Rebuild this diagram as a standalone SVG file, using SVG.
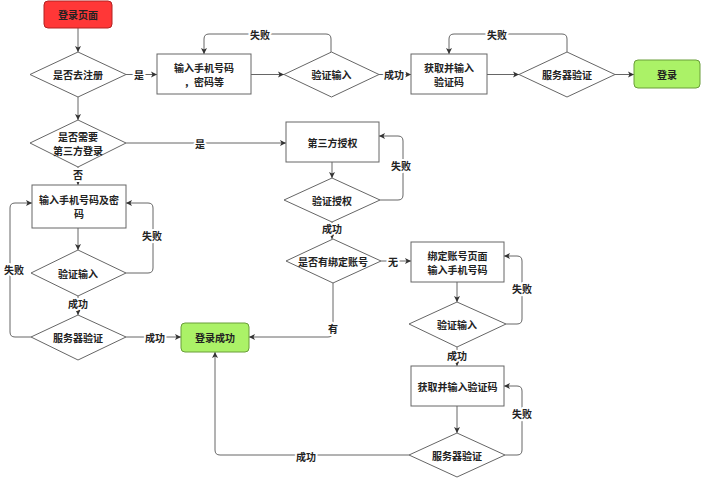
<svg xmlns="http://www.w3.org/2000/svg" width="703" height="478" viewBox="0 0 703 478">
<defs>
<marker id="arr" markerUnits="userSpaceOnUse" markerWidth="7" markerHeight="7" refX="6" refY="3.5" orient="auto">
<path d="M0,0.5 L6,3.5 L0,6.5 L1.5,3.5 z" fill="#333"/>
</marker>
<style>
.n{fill:#fff;stroke:#666;stroke-width:1}
.red{fill:#FF3737;stroke:#B22222;stroke-width:1}
.grn{fill:#ABF267;stroke:#6A9E3A;stroke-width:1}
text{font-family:"Noto Sans CJK SC","Noto Sans",sans-serif;font-size:10px;font-weight:bold;fill:#222;text-anchor:middle;dominant-baseline:central}
.c path{fill:none;stroke:#666;stroke-width:1;marker-end:url(#arr)}
.lb{paint-order:stroke;stroke:#fff;stroke-width:4px;stroke-linejoin:round}
</style>
</defs>
<rect width="703" height="478" fill="#fff"/>
<g class="c" id="connectors">
<path d="M78,28 V52"/>
<path d="M126,74.5 H157"/>
<path d="M251,74.5 H284"/>
<path d="M331,52 V39 Q331,34 326,34 H209 Q204,34 204,39 V54"/>
<path d="M379,74.5 H411"/>
<path d="M487,74.5 H519"/>
<path d="M567,52 V39 Q567,34 562,34 H454 Q449,34 449,39 V54"/>
<path d="M615,74.5 H634"/>
<path d="M78,97 V120"/>
<path d="M126,143 H286"/>
<path d="M78,167 V185"/>
<path d="M78,228 V250"/>
<path d="M126,273 H148 Q153,273 153,268 V208 Q153,203 148,203 H126"/>
<path d="M78,296 V315"/>
<path d="M31,337 H15 Q10,337 10,332 V208 Q10,203 15,203 H32"/>
<path d="M126,337 H181"/>
<path d="M332,162 V178"/>
<path d="M380,200 H398 Q403,200 403,195 V141 Q403,136 398,136 H379"/>
<path d="M332,222 V239"/>
<path d="M381,261 H411"/>
<path d="M333,283 V332 Q333,337 328,337 H249"/>
<path d="M457,282 V302"/>
<path d="M506,324 H517 Q522,324 522,319 V261 Q522,256 517,256 H504"/>
<path d="M457,347 V366"/>
<path d="M457,406 V433"/>
<path d="M505,455 H517 Q522,455 522,450 V391 Q522,386 517,386 H504"/>
<path d="M409,455 H220 Q215,455 215,450 V352"/>
<text class="lb" x="139" y="74.5">是</text>
<text class="lb" x="260" y="34">失败</text>
<text class="lb" x="394" y="74.5">成功</text>
<text class="lb" x="497" y="34">失败</text>
<text class="lb" x="200" y="143">是</text>
<text class="lb" x="78" y="174">否</text>
<text class="lb" x="152" y="235">失败</text>
<text class="lb" x="78" y="303">成功</text>
<text class="lb" x="14" y="269">失败</text>
<text class="lb" x="155" y="337">成功</text>
<text class="lb" x="401" y="165">失败</text>
<text class="lb" x="332" y="228">成功</text>
<text class="lb" x="393" y="261">无</text>
<text class="lb" x="333" y="328">有</text>
<text class="lb" x="522" y="288">失败</text>
<text class="lb" x="457" y="355">成功</text>
<text class="lb" x="522" y="413">失败</text>
<text class="lb" x="306" y="456">成功</text>
</g>
<g id="start"><rect class="red" x="44" y="1" width="68" height="27" rx="4"/><text x="78" y="14.5">登录页面</text></g>
<g id="d_register"><path class="n" d="M30,74.5 L78,52 L126,74.5 L78,97 z"/><text x="78" y="74.5">是否去注册</text></g>
<g id="reg_input"><rect class="n" x="157" y="54" width="94" height="40"/><text x="204" y="67">输入手机号码</text><text x="204" y="81">，密码等</text></g>
<g id="reg_verify"><path class="n" d="M284,74.5 L331.5,52 L379,74.5 L331.5,97 z"/><text x="331.5" y="74.5">验证输入</text></g>
<g id="reg_code"><rect class="n" x="411" y="54" width="76" height="40"/><text x="449" y="67">获取并输入</text><text x="449" y="81">验证码</text></g>
<g id="reg_server"><path class="n" d="M519,74.5 L567,52 L615,74.5 L567,97 z"/><text x="567" y="74.5">服务器验证</text></g>
<g id="login"><rect class="grn" x="634" y="60" width="66" height="28" rx="4"/><text x="667" y="74">登录</text></g>
<g id="d_third"><path class="n" d="M30,143 L78,120 L126,143 L78,167 z"/><text x="78" y="136">是否需要</text><text x="78" y="150">第三方登录</text></g>
<g id="pwd_input"><rect class="n" x="32" y="185" width="94" height="43"/><text x="79" y="199.5">输入手机号码及密</text><text x="79" y="213.5">码</text></g>
<g id="pwd_verify"><path class="n" d="M31,273 L78,250 L126,273 L78,296 z"/><text x="78" y="273">验证输入</text></g>
<g id="pwd_server"><path class="n" d="M31,337 L78,315 L126,337 L78,360 z"/><text x="78" y="337">服务器验证</text></g>
<g id="login_ok"><rect class="grn" x="181" y="323" width="68" height="29" rx="4"/><text x="215" y="337.5">登录成功</text></g>
<g id="third_auth"><rect class="n" x="286" y="122" width="93" height="40"/><text x="332.5" y="142">第三方授权</text></g>
<g id="auth_verify"><path class="n" d="M284,200 L332,178 L380,200 L332,222 z"/><text x="332" y="200">验证授权</text></g>
<g id="d_bound"><path class="n" d="M286,261 L333,239 L381,261 L333,283 z"/><text x="333" y="261">是否有绑定账号</text></g>
<g id="bind_page"><rect class="n" x="411" y="242" width="93" height="40"/><text x="457.5" y="255">绑定账号页面</text><text x="457.5" y="269">输入手机号码</text></g>
<g id="bind_verify"><path class="n" d="M409,324 L457,302 L506,324 L457,347 z"/><text x="457" y="324">验证输入</text></g>
<g id="bind_code"><rect class="n" x="411" y="366" width="93" height="40"/><text x="457.5" y="386">获取并输入验证码</text></g>
<g id="bind_server"><path class="n" d="M409,455 L457,433 L505,455 L457,477 z"/><text x="457" y="455">服务器验证</text></g>
</svg>
